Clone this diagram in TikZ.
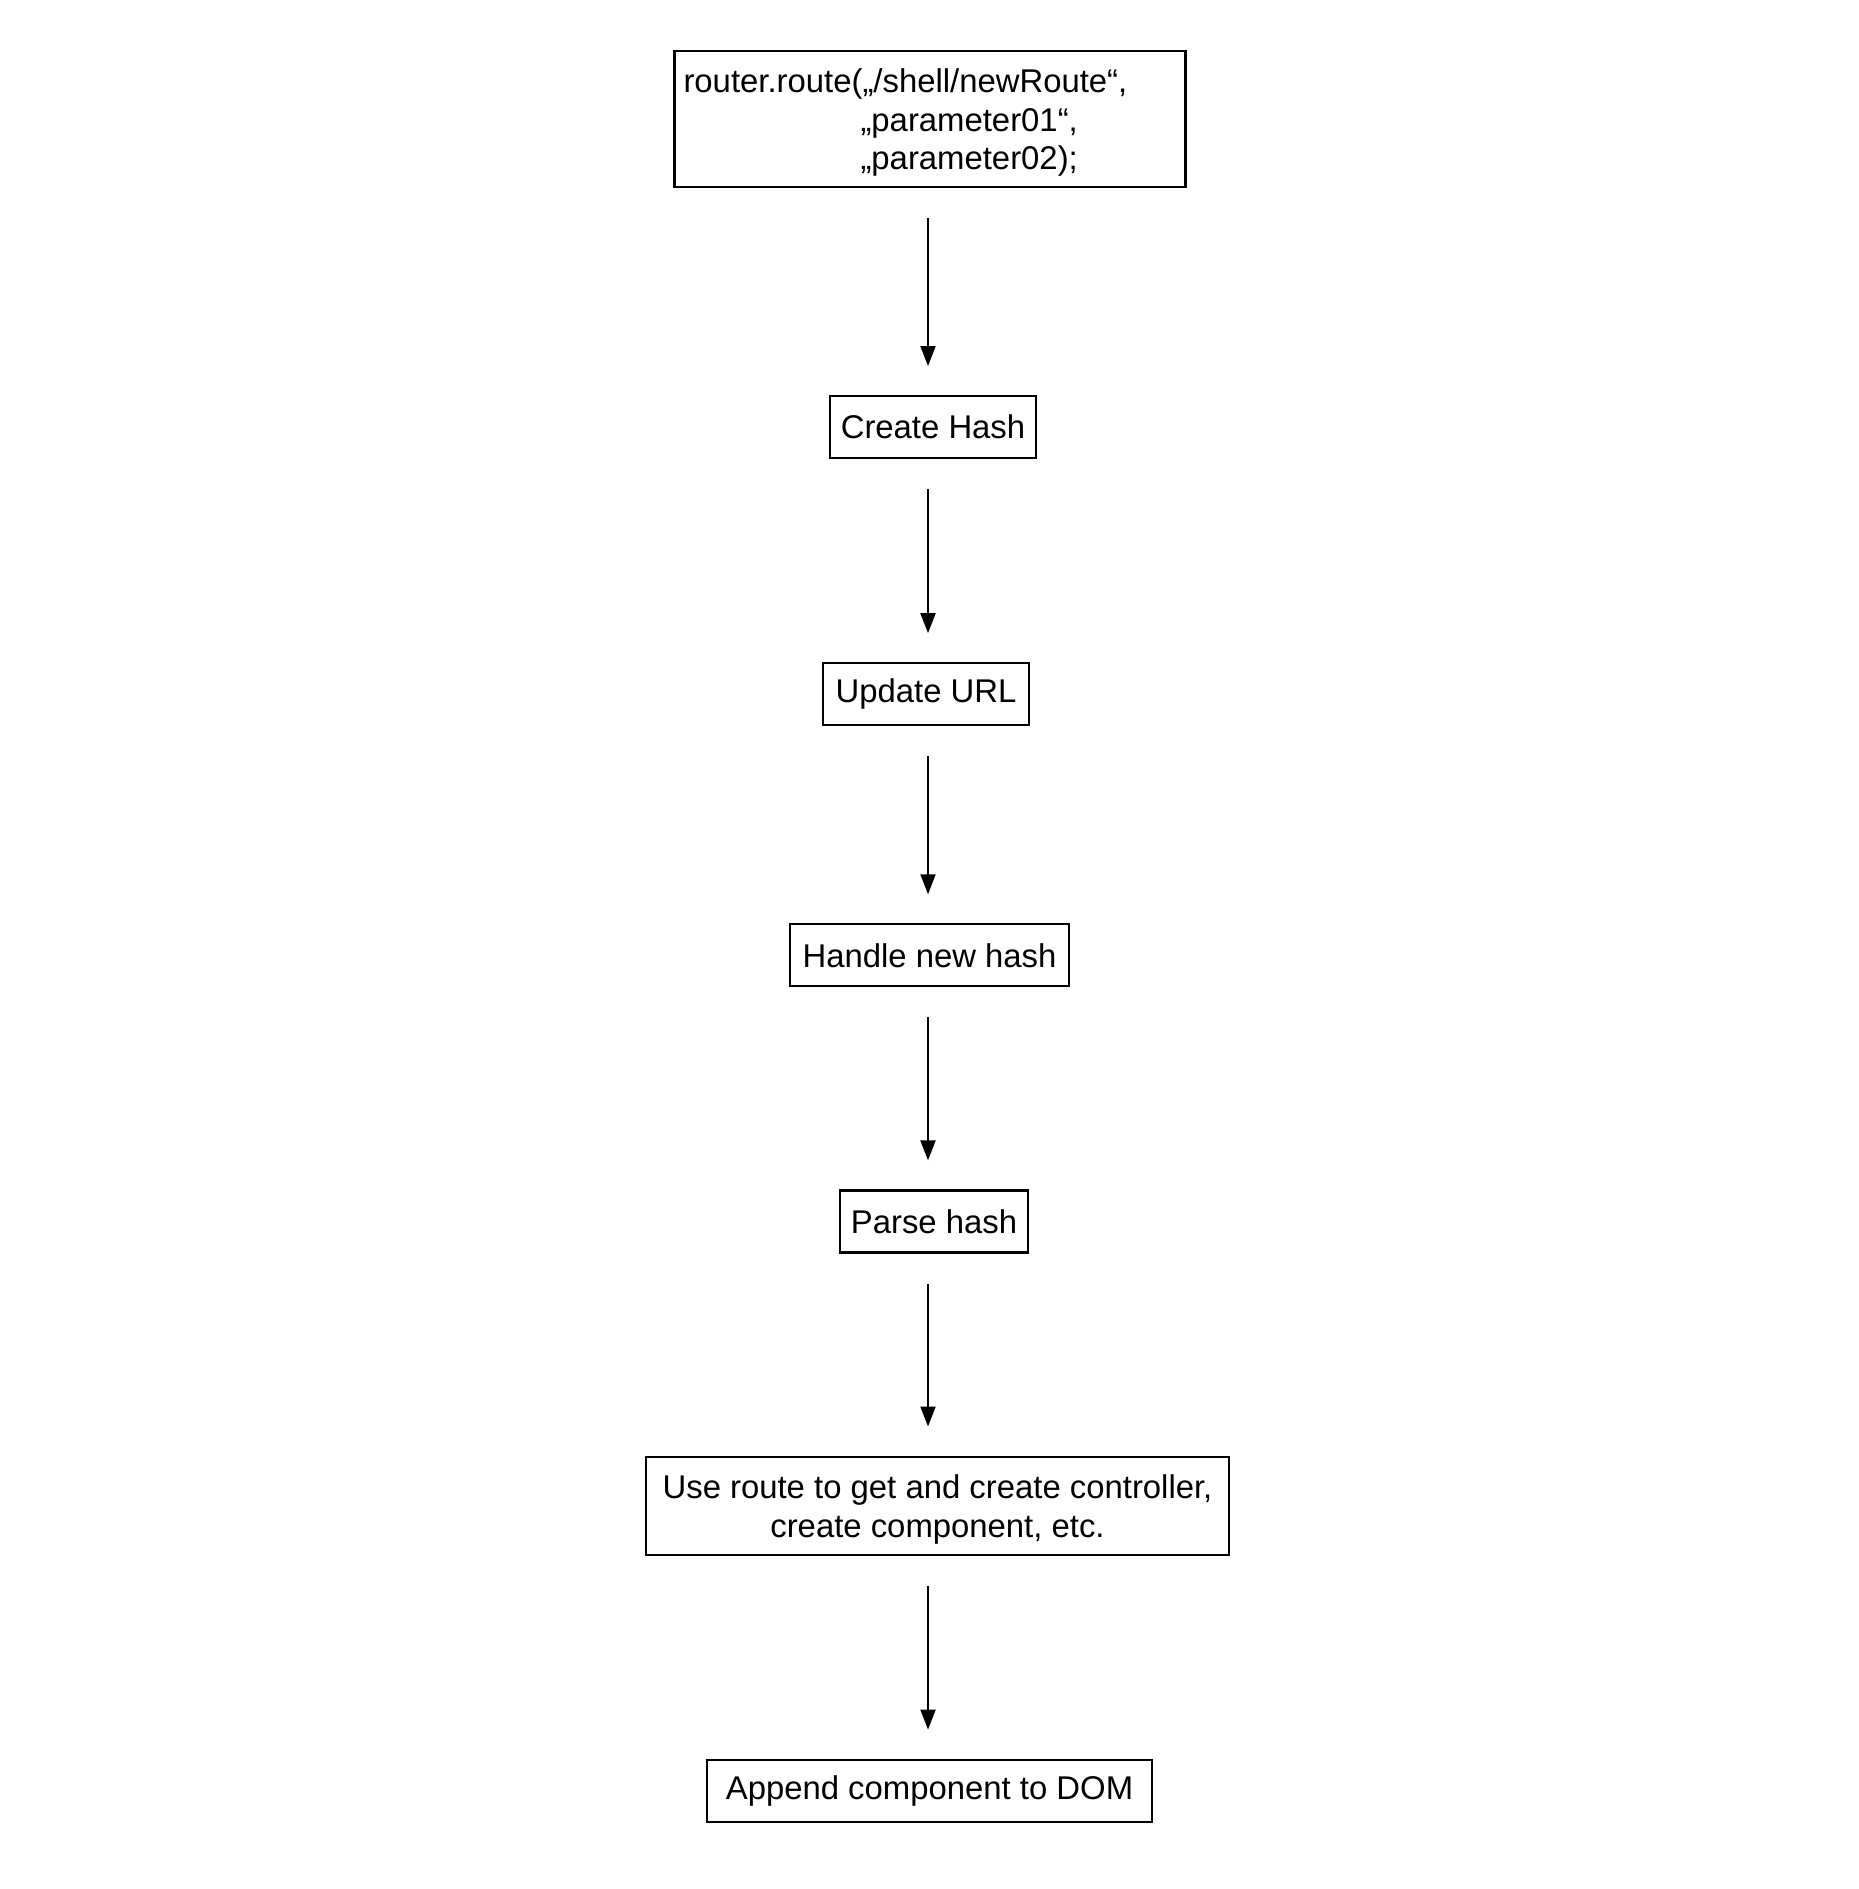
\documentclass[tikz,border=0pt]{standalone}
\usepackage{fontspec}
\setmainfont{Liberation Sans}
\usetikzlibrary{positioning, arrows.meta}

\begin{document}
\begin{tikzpicture}[
                  stepbox/.style={draw, line width=0.6pt, inner sep=0pt,
                                  minimum height=0.62cm, align=center,
                                  font=\fontsize{9.35}{11}\selectfont},
                  arr/.style={-{Triangle[length=2mm, width=1.5mm]}, line width=0.6pt,
                              shorten <=0.3cm, shorten >=0.29cm},
                  node distance=2.02cm,
            ]
            \useasboundingbox (0,0) rectangle (18.58,-18.89);
            \coordinate (axis) at (9.28,0);

            \node[stepbox, minimum width=5.11cm, minimum height=1.36cm, text width=4.93cm, align=left]
                  (call) at (9.30,-1.19) {\rule{0pt}{8.9pt}router.route(„/shell/newRoute“,\\\hspace*{1.77cm}„parameter01“,\\\hspace*{1.77cm}„parameter02);};
            \node[stepbox, minimum width=2.06cm, below=2.07cm of call, xshift=0.03cm] (hash) {Create Hash};
            \node[stepbox, minimum width=2.06cm, below=2.03cm of hash, xshift=-0.07cm] (url) {Update URL};
            \node[stepbox, minimum width=2.79cm, below=1.97cm of url, xshift=0.035cm] (handle) {Handle new hash};
            \node[stepbox, minimum width=1.88cm, below=2.02cm of handle, xshift=0.045cm] (parse) {Parse hash};
            \node[stepbox, minimum width=5.83cm, minimum height=0.98cm, below=of parse, xshift=0.035cm]
                  (use) {\rule{0pt}{9.1pt}Use route to get and create controller,\\create component, etc.};
            \node[stepbox, minimum width=4.45cm, below=2.03cm of use, xshift=-0.08cm] (append) {Append component to DOM};

            \draw[arr] (axis |- call.south) -- (axis |- hash.north);
            \draw[arr] (axis |- hash.south) -- (axis |- url.north);
            \draw[arr] (axis |- url.south) -- (axis |- handle.north);
            \draw[arr] (axis |- handle.south) -- (axis |- parse.north);
            \draw[arr] (axis |- parse.south) -- (axis |- use.north);
            \draw[arr] (axis |- use.south) -- (axis |- append.north);

      \end{tikzpicture}
\end{document}
